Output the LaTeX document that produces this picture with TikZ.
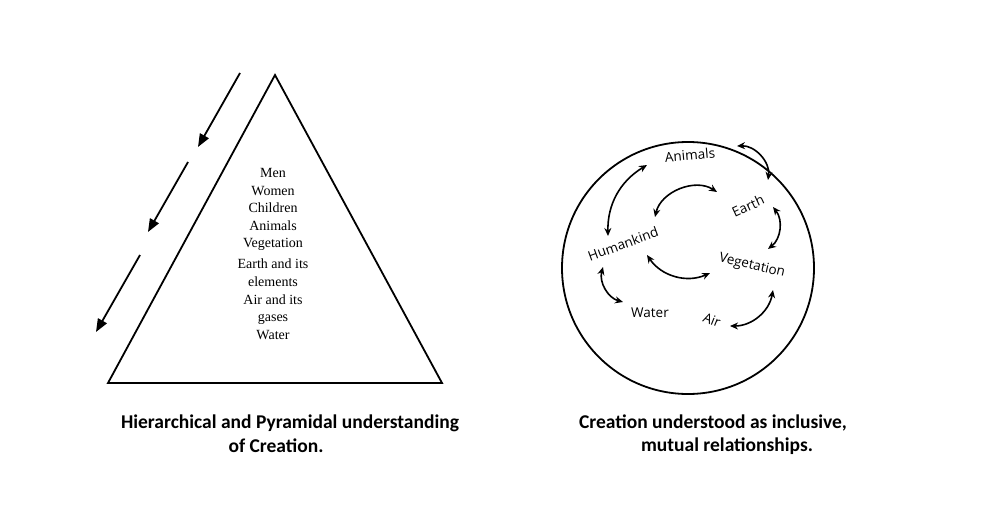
\documentclass[tikz,border=0pt]{standalone}
\usepackage{fontspec}
\setmainfont{Liberation Serif}
\newfontfamily\labfont{Open Sans}
\newfontfamily\capfont{Carlito}
\usetikzlibrary{arrows.meta}
\begin{document}
\begin{tikzpicture}[x=1pt,y=-1pt,
  dn/.style={line width=1.8pt,-{Triangle[length=13pt,width=10pt]}},
  rel/.style={line width=1.6pt,{Stealth[length=8pt,width=7pt]}-{Stealth[length=8pt,width=7pt]}},
  lbl/.style={font=\labfont\fontsize{13.5}{15}\selectfont,inner sep=1pt},
  capt/.style={font=\capfont\bfseries\fontsize{19.5}{24}\selectfont,align=left}]
\useasboundingbox (0,0) rectangle (987,527);
% pyramid
\coordinate (apex) at (275,75);
\coordinate (bl) at (108,383);
\coordinate (br) at (442,383);
\draw[line width=1.8pt] (apex) -- (bl) -- (br) -- cycle;
\node[fill=white,inner sep=3pt,align=center,font=\fontsize{14}{17.5}\selectfont] (list) at (273,254)
 {Men\\Women\\Children\\Animals\\Vegetation\\[3pt]Earth and its\\[1pt]elements\\Air and its\\gases\\Water};
% arrows
\coordinate (a1) at (240,73); \coordinate (a2) at (198,147);
\coordinate (b1) at (188,162); \coordinate (b2) at (148,232);
\coordinate (c1) at (140,255); \coordinate (c2) at (96,332);
\draw[dn] (a1) -- (a2);
\draw[dn] (b1) -- (b2);
\draw[dn] (c1) -- (c2);
\node[capt] (cap1) at (290,423) {Hierarchical and Pyramidal understanding};
\node[capt] (cap1b) at (276,446) {of Creation.};
% circle
\node[draw,circle,line width=1.8pt,minimum size=252pt] (circ) at (688,268) {};
\node[lbl,rotate=5] (an) at (690,155) {Animals};
\node[lbl,rotate=25] (ea) at (748,206) {Earth};
\node[lbl,rotate=20] (hu) at (623,244) {Humankind};
\node[lbl,rotate=-13] (ve) at (752,266) {Vegetation};
\node[lbl] (wa) at (650,313) {Water};
\node[lbl,rotate=-22] (ai) at (712,320) {Air};
\coordinate (p1) at (737,146); \coordinate (q1) at (768,180);
\coordinate (p2) at (647,165); \coordinate (q2) at (608,236);
\coordinate (p3) at (717,192); \coordinate (q3) at (655,217);
\coordinate (p4) at (773,207); \coordinate (q4) at (768,249);
\coordinate (p5) at (647,255); \coordinate (q5) at (710,273);
\coordinate (p6) at (603,267); \coordinate (q6) at (623,302);
\coordinate (p7) at (730,326); \coordinate (q7) at (773,290);
\draw[rel] (p1) to[bend left=50] (q1);
\draw[rel] (p2) to[bend right=30] (q2);
\draw[rel] (p3) to[bend right=55] (q3);
\draw[rel] (p4) to[bend left=45] (q4);
\draw[rel] (p5) to[bend right=40] (q5);
\draw[rel] (p6) to[bend right=45] (q6);
\draw[rel] (p7) to[bend right=40] (q7);
\node[capt] (cap2) at (713,423) {Creation understood as inclusive,};
\node[capt] (cap2b) at (727,446) {mutual relationships.};
\end{tikzpicture}
\end{document}
